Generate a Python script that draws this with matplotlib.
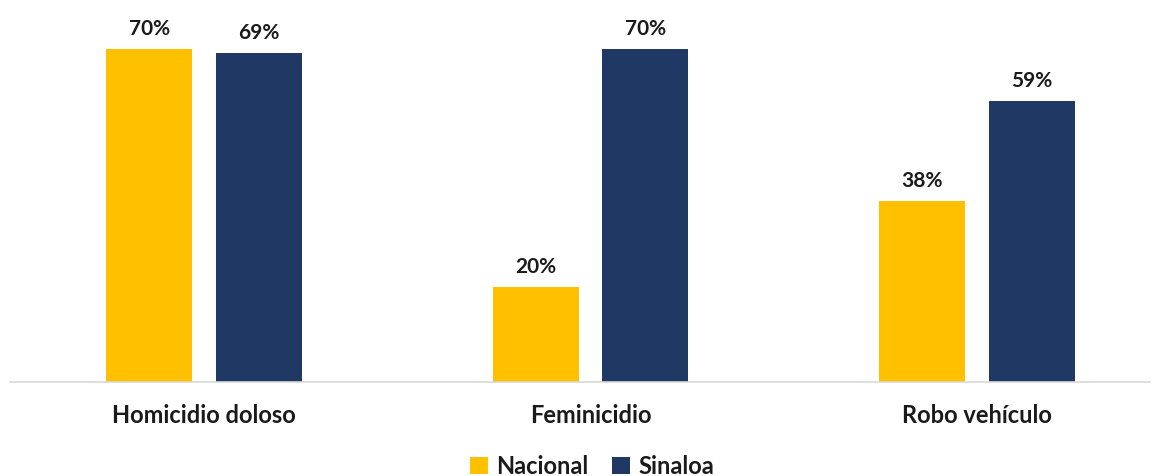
import matplotlib.pyplot as plt
import numpy as np

# delitos y porcentajes por serie
categorias = ["Homicidio doloso", "Feminicidio", "Robo vehículo"]
nacional = [70, 20, 38]
sinaloa = [69, 70, 59]

AMARILLO = "#FFC000"
AZUL = "#203864"
TEXTO = "#1a1a1a"

plt.rcParams["font.family"] = ["Lato", "DejaVu Sans"]

fig = plt.figure(figsize=(11.59, 4.77), dpi=100)
ax = fig.add_axes([10 / 1159, 94 / 477, 1140 / 1159, 381 / 477])

x = np.arange(len(categorias))
ancho = 0.2225
desp = 0.142

b1 = ax.bar(x - desp, nacional, ancho, color=AMARILLO, label="Nacional")
b2 = ax.bar(x + desp, sinaloa, ancho, color=AZUL, label="Sinaloa")

for barras in (b1, b2):
    ax.bar_label(barras, labels=[f"{v}%" for v in barras.datavalues],
                 padding=8, fontsize=15, fontweight="bold", color=TEXTO)

ax.set_xlim(-0.502, 2.448)
ax.set_ylim(0, 80)
ax.set_yticks([])
ax.set_xticks(x)
ax.set_xticklabels(categorias, fontsize=17, fontweight="bold", color=TEXTO)
ax.tick_params(axis="x", length=0, pad=15)

for lado in ("top", "right", "left"):
    ax.spines[lado].set_visible(False)
ax.spines["bottom"].set_color("#d9d9d9")
ax.spines["bottom"].set_linewidth(1.2)

fig.legend(loc="center", bbox_to_anchor=(0.511, 1 - 467 / 477), ncol=2,
           frameon=False, handlelength=0.75, handleheight=0.75,
           handletextpad=0.35, columnspacing=1.0,
           prop={"size": 17, "weight": "bold"}, labelcolor=TEXTO)

fig.savefig("out.png", dpi=100)
